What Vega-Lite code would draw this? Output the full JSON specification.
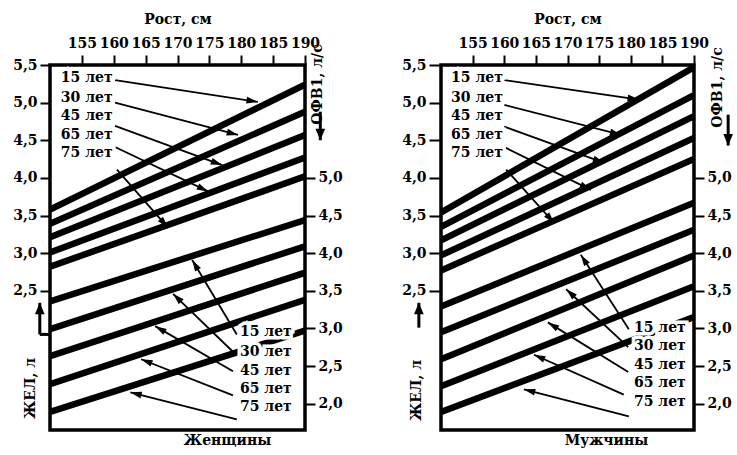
{
  "$schema": "https://vega.github.io/schema/vega-lite/v6.json",
  "padding": {"left": 10, "top": 10, "right": 0, "bottom": 0},
  "background": "white",
  "config": {
    "font": "DejaVu Serif",
    "view": {"stroke": "black", "strokeWidth": 3.5},
    "axis": {"labelFont": "DejaVu Serif", "labelFontSize": 14, "labelFontWeight": "bold", "labelColor": "black", "titleFont": "DejaVu Serif", "titleFontSize": 14, "titleFontWeight": "bold", "titleColor": "black", "tickSize": 10, "tickWidth": 2, "tickColor": "black", "domain": false, "grid": false, "labelFlush": false},
    "text": {"font": "DejaVu Serif", "fontSize": 14, "fontWeight": "bold"},
    "title": {"font": "DejaVu Serif", "fontSize": 14, "fontWeight": "bold", "color": "black"}
  },
  "datasets": {
    "lines": [
      {"panel": "Женщины", "group": "ЖЕЛ", "age": "15 лет", "h1": 150, "v1": 3.58, "h2": 190, "v2": 5.24},
      {"panel": "Женщины", "group": "ЖЕЛ", "age": "30 лет", "h1": 150, "v1": 3.39, "h2": 190, "v2": 4.88},
      {"panel": "Женщины", "group": "ЖЕЛ", "age": "45 лет", "h1": 150, "v1": 3.21, "h2": 190, "v2": 4.57},
      {"panel": "Женщины", "group": "ЖЕЛ", "age": "65 лет", "h1": 150, "v1": 3.01, "h2": 190, "v2": 4.27},
      {"panel": "Женщины", "group": "ЖЕЛ", "age": "75 лет", "h1": 150, "v1": 2.82, "h2": 190, "v2": 4.02},
      {"panel": "Женщины", "group": "ОФВ1", "age": "15 лет", "h1": 150, "v1": 3.36, "h2": 190, "v2": 4.44},
      {"panel": "Женщины", "group": "ОФВ1", "age": "30 лет", "h1": 150, "v1": 2.99, "h2": 190, "v2": 4.09},
      {"panel": "Женщины", "group": "ОФВ1", "age": "45 лет", "h1": 150, "v1": 2.63, "h2": 190, "v2": 3.74},
      {"panel": "Женщины", "group": "ОФВ1", "age": "65 лет", "h1": 150, "v1": 2.26, "h2": 190, "v2": 3.38},
      {"panel": "Женщины", "group": "ОФВ1", "age": "75 лет", "h1": 150, "v1": 1.89, "h2": 190, "v2": 2.97},
      {"panel": "Мужчины", "group": "ЖЕЛ", "age": "15 лет", "h1": 150, "v1": 3.54, "h2": 190, "v2": 5.47},
      {"panel": "Мужчины", "group": "ЖЕЛ", "age": "30 лет", "h1": 150, "v1": 3.35, "h2": 190, "v2": 5.10},
      {"panel": "Мужчины", "group": "ЖЕЛ", "age": "45 лет", "h1": 150, "v1": 3.17, "h2": 190, "v2": 4.82},
      {"panel": "Мужчины", "group": "ЖЕЛ", "age": "65 лет", "h1": 150, "v1": 2.97, "h2": 190, "v2": 4.53},
      {"panel": "Мужчины", "group": "ЖЕЛ", "age": "75 лет", "h1": 150, "v1": 2.77, "h2": 190, "v2": 4.25},
      {"panel": "Мужчины", "group": "ОФВ1", "age": "15 лет", "h1": 150, "v1": 3.29, "h2": 190, "v2": 4.67},
      {"panel": "Мужчины", "group": "ОФВ1", "age": "30 лет", "h1": 150, "v1": 2.95, "h2": 190, "v2": 4.31},
      {"panel": "Мужчины", "group": "ОФВ1", "age": "45 лет", "h1": 150, "v1": 2.59, "h2": 190, "v2": 3.97},
      {"panel": "Мужчины", "group": "ОФВ1", "age": "65 лет", "h1": 150, "v1": 2.23, "h2": 190, "v2": 3.56},
      {"panel": "Мужчины", "group": "ОФВ1", "age": "75 лет", "h1": 150, "v1": 1.89, "h2": 190, "v2": 3.15}
    ],
    "arrows": [
      {"panel": "Женщины", "group": "ЖЕЛ", "age": "15 лет", "lh": 151.7, "lv": 5.33, "h1": 160.2, "v1": 5.30, "h2": 182.6, "v2": 5.01},
      {"panel": "Женщины", "group": "ЖЕЛ", "age": "30 лет", "lh": 151.7, "lv": 5.06, "h1": 160.2, "v1": 5.00, "h2": 179.5, "v2": 4.57},
      {"panel": "Женщины", "group": "ЖЕЛ", "age": "45 лет", "lh": 151.7, "lv": 4.82, "h1": 160.2, "v1": 4.69, "h2": 177.0, "v2": 4.17},
      {"panel": "Женщины", "group": "ЖЕЛ", "age": "65 лет", "lh": 151.7, "lv": 4.57, "h1": 160.2, "v1": 4.41, "h2": 174.8, "v2": 3.82},
      {"panel": "Женщины", "group": "ЖЕЛ", "age": "75 лет", "lh": 151.7, "lv": 4.33, "h1": 160.5, "v1": 4.11, "h2": 168.5, "v2": 3.34},
      {"panel": "Женщины", "group": "ОФВ1", "age": "15 лет", "lh": 179.8, "lv": 1.95, "h1": 179.3, "v1": 1.92, "h2": 172.3, "v2": 2.91},
      {"panel": "Женщины", "group": "ОФВ1", "age": "30 лет", "lh": 179.8, "lv": 1.68, "h1": 178.7, "v1": 1.69, "h2": 169.3, "v2": 2.46},
      {"panel": "Женщины", "group": "ОФВ1", "age": "45 лет", "lh": 179.8, "lv": 1.43, "h1": 178.7, "v1": 1.43, "h2": 166.5, "v2": 2.03},
      {"panel": "Женщины", "group": "ОФВ1", "age": "65 лет", "lh": 179.8, "lv": 1.19, "h1": 178.7, "v1": 1.11, "h2": 164.3, "v2": 1.59},
      {"panel": "Женщины", "group": "ОФВ1", "age": "75 лет", "lh": 179.8, "lv": 0.95, "h1": 179.3, "v1": 0.79, "h2": 162.6, "v2": 1.15},
      {"panel": "Мужчины", "group": "ЖЕЛ", "age": "15 лет", "lh": 151.6, "lv": 5.33, "h1": 160.0, "v1": 5.30, "h2": 181.3, "v2": 5.04},
      {"panel": "Мужчины", "group": "ЖЕЛ", "age": "30 лет", "lh": 151.6, "lv": 5.06, "h1": 160.0, "v1": 4.97, "h2": 178.5, "v2": 4.57},
      {"panel": "Мужчины", "group": "ЖЕЛ", "age": "45 лет", "lh": 151.6, "lv": 4.82, "h1": 160.0, "v1": 4.68, "h2": 175.8, "v2": 4.20},
      {"panel": "Мужчины", "group": "ЖЕЛ", "age": "65 лет", "lh": 151.6, "lv": 4.57, "h1": 160.0, "v1": 4.41, "h2": 173.7, "v2": 3.84},
      {"panel": "Мужчины", "group": "ЖЕЛ", "age": "75 лет", "lh": 151.6, "lv": 4.33, "h1": 160.3, "v1": 4.11, "h2": 167.9, "v2": 3.40},
      {"panel": "Мужчины", "group": "ОФВ1", "age": "15 лет", "lh": 180.5, "lv": 2.01, "h1": 179.7, "v1": 1.99, "h2": 172.1, "v2": 2.98},
      {"panel": "Мужчины", "group": "ОФВ1", "age": "30 лет", "lh": 180.5, "lv": 1.76, "h1": 179.6, "v1": 1.75, "h2": 169.8, "v2": 2.52},
      {"panel": "Мужчины", "group": "ОФВ1", "age": "45 лет", "lh": 180.5, "lv": 1.51, "h1": 179.6, "v1": 1.42, "h2": 166.9, "v2": 2.08},
      {"panel": "Мужчины", "group": "ОФВ1", "age": "65 лет", "lh": 180.5, "lv": 1.27, "h1": 178.9, "v1": 1.12, "h2": 164.7, "v2": 1.65},
      {"panel": "Мужчины", "group": "ОФВ1", "age": "75 лет", "lh": 180.5, "lv": 1.02, "h1": 179.7, "v1": 0.83, "h2": 163.1, "v2": 1.19}
    ],
    "axisArrows": [
      {"panel": "Женщины", "kind": "arrow", "h1": 148.4, "v1": 1.92, "h2": 148.4, "v2": 2.34},
      {"panel": "Женщины", "kind": "stub", "h1": 148.4, "v1": 1.92, "h2": 150, "v2": 1.92},
      {"panel": "Женщины", "kind": "arrow", "h1": 192.4, "v1": 4.88, "h2": 192.4, "v2": 4.50},
      {"panel": "Мужчины", "kind": "arrow", "h1": 146.5, "v1": 2.01, "h2": 146.5, "v2": 2.34},
      {"panel": "Мужчины", "kind": "arrow", "h1": 195.4, "v1": 4.84, "h2": 195.4, "v2": 4.43}
    ]
  },
  "spacing": 54,
  "hconcat": [
    {
      "width": 255,
      "height": 365,
      "title": {"text": "Женщины", "orient": "bottom", "anchor": "middle", "frame": "group", "dx": 50, "offset": 4},
      "layer": [
        {
          "data": {"name": "lines"},
          "transform": [{"filter": "datum.panel === 'Женщины' && datum.group === 'ЖЕЛ'"}],
          "mark": {"type": "rule", "color": "black", "strokeWidth": 6.5, "clip": true},
          "encoding": {
            "x": {"field": "h1", "type": "quantitative", "scale": {"domain": [150, 190]}, "axis": {"orient": "top", "values": [155, 160, 165, 170, 175, 180, 185, 190], "title": "Рост, см", "labelPadding": 5, "titlePadding": 10}},
            "x2": {"field": "h2"},
            "y": {"field": "v1", "type": "quantitative", "scale": {"domain": [0.65, 5.5]}, "axis": {"orient": "left", "values": [2.5, 3, 3.5, 4, 4.5, 5, 5.5], "labelExpr": "replace(format(datum.value, '.1f'), '.', ',')", "labelPadding": 3, "title": "ЖЕЛ, л", "titleX": -20, "titleY": 323, "titleAngle": -90, "titleAlign": "center", "titleBaseline": "middle"}},
            "y2": {"field": "v2"}
          }
        },
        {
          "data": {"name": "lines"},
          "transform": [{"filter": "datum.panel === 'Женщины' && datum.group === 'ОФВ1'"}],
          "mark": {"type": "rule", "color": "black", "strokeWidth": 6.5, "clip": true},
          "encoding": {
            "x": {"field": "h1", "type": "quantitative", "scale": {"domain": [150, 190]}, "axis": {"orient": "top", "values": [155, 160, 165, 170, 175, 180, 185, 190], "title": "Рост, см", "labelPadding": 5, "titlePadding": 10}},
            "x2": {"field": "h2"},
            "y": {"field": "v1", "type": "quantitative", "scale": {"domain": [1.65, 6.5]}, "axis": {"orient": "right", "values": [2, 2.5, 3, 3.5, 4, 4.5, 5], "labelExpr": "replace(format(datum.value, '.1f'), '.', ',')", "labelPadding": 3, "title": "ОФВ1, л/с", "titleX": 12, "titleY": 19, "titleAngle": -90, "titleAlign": "center", "titleBaseline": "middle"}},
            "y2": {"field": "v2"}
          }
        },
        {
          "data": {"name": "arrows"},
          "transform": [{"filter": "datum.panel === 'Женщины'"}],
          "mark": {"type": "rule", "color": "black", "strokeWidth": 1.8},
          "encoding": {
            "x": {"field": "h1", "type": "quantitative", "scale": {"domain": [150, 190]}, "axis": {"orient": "top", "values": [155, 160, 165, 170, 175, 180, 185, 190], "title": "Рост, см", "labelPadding": 5, "titlePadding": 10}},
            "x2": {"field": "h2"},
            "y": {"field": "v1", "type": "quantitative", "scale": {"domain": [0.65, 5.5]}, "axis": null},
            "y2": {"field": "v2"}
          }
        },
        {
          "data": {"name": "arrows"},
          "transform": [{"filter": "datum.panel === 'Женщины'"}, {"calculate": "atan2((datum.h2 - datum.h1) * 6.375, (datum.v2 - datum.v1) * 75.26) * 180 / PI", "as": "ang"}],
          "mark": {"type": "point", "shape": "M0,0L-0.6,2L0.6,2Z", "filled": true, "color": "black", "opacity": 1, "size": 130},
          "encoding": {
            "x": {"field": "h2", "type": "quantitative", "scale": {"domain": [150, 190]}, "axis": {"orient": "top", "values": [155, 160, 165, 170, 175, 180, 185, 190], "title": "Рост, см", "labelPadding": 5, "titlePadding": 10}},
            "y": {"field": "v2", "type": "quantitative", "scale": {"domain": [0.65, 5.5]}, "axis": null},
            "angle": {"field": "ang", "type": "quantitative", "scale": null}
          }
        },
        {
          "data": {"name": "arrows"},
          "transform": [{"filter": "datum.panel === 'Женщины'"}],
          "mark": {"type": "text", "align": "left", "baseline": "middle", "color": "white", "stroke": "white", "strokeWidth": 7},
          "encoding": {
            "x": {"field": "lh", "type": "quantitative", "scale": {"domain": [150, 190]}, "axis": {"orient": "top", "values": [155, 160, 165, 170, 175, 180, 185, 190], "title": "Рост, см", "labelPadding": 5, "titlePadding": 10}},
            "y": {"field": "lv", "type": "quantitative", "scale": {"domain": [0.65, 5.5]}, "axis": null},
            "text": {"field": "age"}
          }
        },
        {
          "data": {"name": "arrows"},
          "transform": [{"filter": "datum.panel === 'Женщины'"}],
          "mark": {"type": "text", "align": "left", "baseline": "middle", "color": "black"},
          "encoding": {
            "x": {"field": "lh", "type": "quantitative", "scale": {"domain": [150, 190]}, "axis": {"orient": "top", "values": [155, 160, 165, 170, 175, 180, 185, 190], "title": "Рост, см", "labelPadding": 5, "titlePadding": 10}},
            "y": {"field": "lv", "type": "quantitative", "scale": {"domain": [0.65, 5.5]}, "axis": null},
            "text": {"field": "age"}
          }
        },
        {
          "data": {"name": "axisArrows"},
          "transform": [{"filter": "datum.panel === 'Женщины'"}],
          "mark": {"type": "rule", "color": "black", "strokeWidth": 3},
          "encoding": {
            "x": {"field": "h1", "type": "quantitative", "scale": {"domain": [150, 190]}, "axis": {"orient": "top", "values": [155, 160, 165, 170, 175, 180, 185, 190], "title": "Рост, см", "labelPadding": 5, "titlePadding": 10}},
            "x2": {"field": "h2"},
            "y": {"field": "v1", "type": "quantitative", "scale": {"domain": [0.65, 5.5]}, "axis": null},
            "y2": {"field": "v2"}
          }
        },
        {
          "data": {"name": "axisArrows"},
          "transform": [{"filter": "datum.panel === 'Женщины' && datum.kind === 'arrow'"}, {"calculate": "atan2((datum.h2 - datum.h1) * 6.375, (datum.v2 - datum.v1) * 75.26) * 180 / PI", "as": "ang"}],
          "mark": {"type": "point", "shape": "M0,0L-0.85,2L0.85,2Z", "filled": true, "color": "black", "opacity": 1, "size": 130},
          "encoding": {
            "x": {"field": "h2", "type": "quantitative", "scale": {"domain": [150, 190]}, "axis": {"orient": "top", "values": [155, 160, 165, 170, 175, 180, 185, 190], "title": "Рост, см", "labelPadding": 5, "titlePadding": 10}},
            "y": {"field": "v2", "type": "quantitative", "scale": {"domain": [0.65, 5.5]}, "axis": null},
            "angle": {"field": "ang", "type": "quantitative", "scale": null}
          }
        }
      ],
      "resolve": {"scale": {"y": "independent"}, "axis": {"y": "independent"}}
    },
    {
      "width": 253,
      "height": 365,
      "title": {"text": "Мужчины", "orient": "bottom", "anchor": "middle", "frame": "group", "dx": 39, "offset": 4},
      "layer": [
        {
          "data": {"name": "lines"},
          "transform": [{"filter": "datum.panel === 'Мужчины' && datum.group === 'ЖЕЛ'"}],
          "mark": {"type": "rule", "color": "black", "strokeWidth": 6.5, "clip": true},
          "encoding": {
            "x": {"field": "h1", "type": "quantitative", "scale": {"domain": [150, 190]}, "axis": {"orient": "top", "values": [155, 160, 165, 170, 175, 180, 185, 190], "title": "Рост, см", "labelPadding": 5, "titlePadding": 10}},
            "x2": {"field": "h2"},
            "y": {"field": "v1", "type": "quantitative", "scale": {"domain": [0.65, 5.5]}, "axis": {"orient": "left", "values": [2.5, 3, 3.5, 4, 4.5, 5, 5.5], "labelExpr": "replace(format(datum.value, '.1f'), '.', ',')", "labelPadding": 3, "tickSize": 12, "title": "ЖЕЛ, л", "titleX": -25, "titleY": 325, "titleAngle": -90, "titleAlign": "center", "titleBaseline": "middle"}},
            "y2": {"field": "v2"}
          }
        },
        {
          "data": {"name": "lines"},
          "transform": [{"filter": "datum.panel === 'Мужчины' && datum.group === 'ОФВ1'"}],
          "mark": {"type": "rule", "color": "black", "strokeWidth": 6.5, "clip": true},
          "encoding": {
            "x": {"field": "h1", "type": "quantitative", "scale": {"domain": [150, 190]}, "axis": {"orient": "top", "values": [155, 160, 165, 170, 175, 180, 185, 190], "title": "Рост, см", "labelPadding": 5, "titlePadding": 10}},
            "x2": {"field": "h2"},
            "y": {"field": "v1", "type": "quantitative", "scale": {"domain": [1.65, 6.5]}, "axis": {"orient": "right", "values": [2, 2.5, 3, 3.5, 4, 4.5, 5], "labelExpr": "replace(format(datum.value, '.1f'), '.', ',')", "labelPadding": 3, "title": "ОФВ1, л/с", "titleX": 23, "titleY": 22, "titleAngle": -90, "titleAlign": "center", "titleBaseline": "middle"}},
            "y2": {"field": "v2"}
          }
        },
        {
          "data": {"name": "arrows"},
          "transform": [{"filter": "datum.panel === 'Мужчины'"}],
          "mark": {"type": "rule", "color": "black", "strokeWidth": 1.8},
          "encoding": {
            "x": {"field": "h1", "type": "quantitative", "scale": {"domain": [150, 190]}, "axis": {"orient": "top", "values": [155, 160, 165, 170, 175, 180, 185, 190], "title": "Рост, см", "labelPadding": 5, "titlePadding": 10}},
            "x2": {"field": "h2"},
            "y": {"field": "v1", "type": "quantitative", "scale": {"domain": [0.65, 5.5]}, "axis": null},
            "y2": {"field": "v2"}
          }
        },
        {
          "data": {"name": "arrows"},
          "transform": [{"filter": "datum.panel === 'Мужчины'"}, {"calculate": "atan2((datum.h2 - datum.h1) * 6.325, (datum.v2 - datum.v1) * 75.26) * 180 / PI", "as": "ang"}],
          "mark": {"type": "point", "shape": "M0,0L-0.6,2L0.6,2Z", "filled": true, "color": "black", "opacity": 1, "size": 130},
          "encoding": {
            "x": {"field": "h2", "type": "quantitative", "scale": {"domain": [150, 190]}, "axis": {"orient": "top", "values": [155, 160, 165, 170, 175, 180, 185, 190], "title": "Рост, см", "labelPadding": 5, "titlePadding": 10}},
            "y": {"field": "v2", "type": "quantitative", "scale": {"domain": [0.65, 5.5]}, "axis": null},
            "angle": {"field": "ang", "type": "quantitative", "scale": null}
          }
        },
        {
          "data": {"name": "arrows"},
          "transform": [{"filter": "datum.panel === 'Мужчины'"}],
          "mark": {"type": "text", "align": "left", "baseline": "middle", "color": "white", "stroke": "white", "strokeWidth": 7},
          "encoding": {
            "x": {"field": "lh", "type": "quantitative", "scale": {"domain": [150, 190]}, "axis": {"orient": "top", "values": [155, 160, 165, 170, 175, 180, 185, 190], "title": "Рост, см", "labelPadding": 5, "titlePadding": 10}},
            "y": {"field": "lv", "type": "quantitative", "scale": {"domain": [0.65, 5.5]}, "axis": null},
            "text": {"field": "age"}
          }
        },
        {
          "data": {"name": "arrows"},
          "transform": [{"filter": "datum.panel === 'Мужчины'"}],
          "mark": {"type": "text", "align": "left", "baseline": "middle", "color": "black"},
          "encoding": {
            "x": {"field": "lh", "type": "quantitative", "scale": {"domain": [150, 190]}, "axis": {"orient": "top", "values": [155, 160, 165, 170, 175, 180, 185, 190], "title": "Рост, см", "labelPadding": 5, "titlePadding": 10}},
            "y": {"field": "lv", "type": "quantitative", "scale": {"domain": [0.65, 5.5]}, "axis": null},
            "text": {"field": "age"}
          }
        },
        {
          "data": {"name": "axisArrows"},
          "transform": [{"filter": "datum.panel === 'Мужчины'"}],
          "mark": {"type": "rule", "color": "black", "strokeWidth": 3},
          "encoding": {
            "x": {"field": "h1", "type": "quantitative", "scale": {"domain": [150, 190]}, "axis": {"orient": "top", "values": [155, 160, 165, 170, 175, 180, 185, 190], "title": "Рост, см", "labelPadding": 5, "titlePadding": 10}},
            "x2": {"field": "h2"},
            "y": {"field": "v1", "type": "quantitative", "scale": {"domain": [0.65, 5.5]}, "axis": null},
            "y2": {"field": "v2"}
          }
        },
        {
          "data": {"name": "axisArrows"},
          "transform": [{"filter": "datum.panel === 'Мужчины' && datum.kind === 'arrow'"}, {"calculate": "atan2((datum.h2 - datum.h1) * 6.325, (datum.v2 - datum.v1) * 75.26) * 180 / PI", "as": "ang"}],
          "mark": {"type": "point", "shape": "M0,0L-0.85,2L0.85,2Z", "filled": true, "color": "black", "opacity": 1, "size": 130},
          "encoding": {
            "x": {"field": "h2", "type": "quantitative", "scale": {"domain": [150, 190]}, "axis": {"orient": "top", "values": [155, 160, 165, 170, 175, 180, 185, 190], "title": "Рост, см", "labelPadding": 5, "titlePadding": 10}},
            "y": {"field": "v2", "type": "quantitative", "scale": {"domain": [0.65, 5.5]}, "axis": null},
            "angle": {"field": "ang", "type": "quantitative", "scale": null}
          }
        }
      ],
      "resolve": {"scale": {"y": "independent"}, "axis": {"y": "independent"}}
    }
  ]
}
